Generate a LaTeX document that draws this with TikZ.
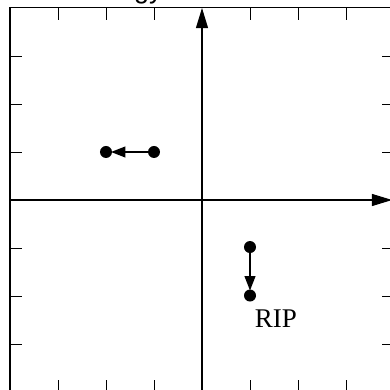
\documentclass[tikz,border=0pt]{standalone}
\usepackage{fontspec}
\setmainfont{Liberation Serif}
\newfontfamily\titlefont{Liberation Sans}
\usetikzlibrary{arrows.meta,positioning}

\begin{document}
\begin{tikzpicture}[
  >=Latex,
  frame/.style={line width=0.6pt},
  tick/.style={line width=0.5pt},
  axis/.style={-{Triangle[length=4.2mm,width=2.5mm]},line width=0.7pt},
  dot/.style={circle,fill,inner sep=0pt,minimum size=2.5mm},
  flow/.style={-{Triangle[length=3mm,width=2.2mm]},line width=1.2pt,shorten >=-0.3mm},
  txt/.style={inner sep=0pt,font=\fontsize{16}{18}\selectfont}
]
\useasboundingbox (-4.2083,-3.9583) rectangle (3.9167,4.1667);
% frame and ticks
\draw[frame] (-4,-4) rectangle (4,4);
\foreach \t in {-3,-2,-1,1,2,3} {
  \draw[tick] (\t,4) -- (\t,3.75);
  \draw[tick] (\t,-4) -- (\t,-3.75);
  \draw[tick] (-4,\t) -- (-3.75,\t);
  \draw[tick] (4,\t) -- (3.75,\t);
}
% axes
\coordinate (xl) at (-4,0);
\coordinate (xr) at (3.96,0);
\coordinate (yb) at (0,-4);
\coordinate (yt) at (0,4);
\draw[axis] (xl) -- (xr);
\draw[axis] (yb) -- (yt);
% title, cut off at the top
\node[txt,anchor=base west,font=\titlefont\fontsize{16}{18}\selectfont] (title) at (-1.42,4.2) {gy};
% moves
\node[dot] (a1) at (-1,1) {};
\node[dot] (a2) at (-2,1) {};
\node[dot] (b1) at (1,-0.98) {};
\node[dot] (b2) at (1,-1.99) {};
\draw[flow] (a1) -- (a2);
\draw[flow] (b1) -- (b2);
\node[txt,below right=2mm and 0mm of b2] (rip) {RIP};
\end{tikzpicture}
\end{document}
